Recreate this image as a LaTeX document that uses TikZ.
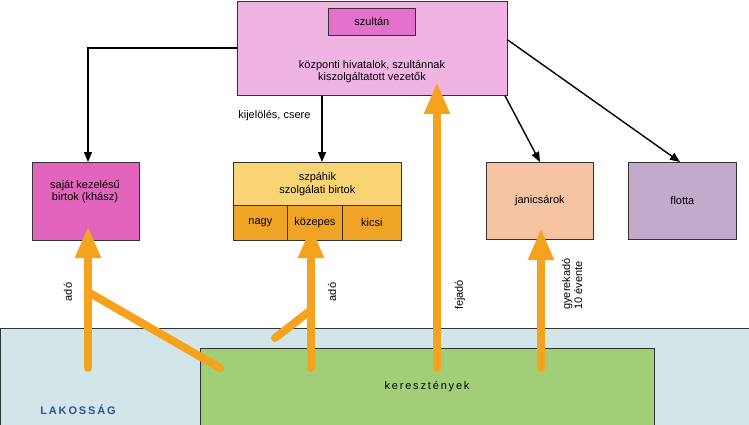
\documentclass[tikz,border=0pt]{standalone}
\usepackage{fontspec}
\setmainfont{Liberation Sans}
\usetikzlibrary{arrows.meta}
\definecolor{topc}{HTML}{F0B4E2}
\definecolor{sultc}{HTML}{E272CC}
\definecolor{sajc}{HTML}{E264BC}
\definecolor{szpc}{HTML}{F8D474}
\definecolor{szpd}{HTML}{F0A426}
\definecolor{janc}{HTML}{F6C4A2}
\definecolor{flc}{HTML}{C2AACA}
\definecolor{lakc}{HTML}{D2E6EA}
\definecolor{kerc}{HTML}{A2CE78}
\definecolor{orc}{HTML}{F5A21E}
\definecolor{bluec}{HTML}{3050A0}
\tikzset{
 box/.style={draw=black!80,line width=0.8pt,inner sep=0pt,align=center,font=\fontsize{11}{13}\selectfont},
 blk/.style={-{Triangle[width=8pt,length=10pt]},line width=1.4pt},
 org/.style={orc,line width=8pt,line cap=round},
 orga/.style={org,-{Triangle[width=24pt,length=32pt]}},
 lbl/.style={font=\fontsize{11}{12}\selectfont,align=center}
}
\begin{document}
\begin{tikzpicture}[x=1pt,y=-1pt]
\useasboundingbox (0,0) rectangle (749,425);
\fill[lakc,draw=black!80,line width=0.8pt] (0,328) rectangle (749,426);
\node[lbl,text=bluec,font=\bfseries\fontsize{11}{12}\selectfont] (lak) at (78,410) {L\,A\,K\,O\,S\,S\,Á\,G};
\node[box,fill=kerc,minimum width=454pt,minimum height=78pt,anchor=north west] (ker) at (200,348) {};
\node[lbl] (kert) at (427,387) {k\,e\,r\,e\,s\,z\,t\,é\,n\,y\,e\,k};
% top
\node[box,fill=topc,minimum width=270pt,minimum height=94pt,anchor=north west] (top) at (237,1) {};
\node[box,fill=sultc,minimum width=87pt,minimum height=27pt,anchor=north west] (sz) at (328,8) {szultán};
\node[lbl] (kozp) at (372,72) {központi hivatalok, szultánnak\\kiszolgáltatott vezetők};
% boxes
\node[box,fill=sajc,minimum width=107pt,minimum height=78pt,anchor=north west] (saj) at (32,162) {};
\node[lbl] (sajt) at (85,192) {saját kezelésű\\birtok (khász)};
\node[box,fill=szpc,minimum width=168pt,minimum height=43pt,anchor=north west] (szp) at (233,162) {szpáhik\\szolgálati birtok};
\node[box,fill=szpd,minimum width=54pt,minimum height=35pt,anchor=north west] (nagy) at (233,205) {nagy};
\node[box,fill=szpd,minimum width=55pt,minimum height=35pt,anchor=north west] (koz) at (287,205) {közepes};
\node[box,fill=szpd,minimum width=59pt,minimum height=35pt,anchor=north west] (kic) at (342,205) {kicsi};
\node[box,fill=janc,minimum width=107pt,minimum height=77pt,anchor=north west] (jan) at (486,162) {janicsárok};
\node[box,fill=flc,minimum width=108pt,minimum height=77pt,anchor=north west] (fl) at (628,162) {flotta};
% black arrows
\draw[blk] (top.west |- 0,48) -| (saj.north -| 88,0);
\draw[blk] (top.south -| 322,0) -- (szp.north -| 322,0);
\node[lbl,anchor=east] (kij) at (314,116) {kijelölés, csere};
\draw[blk] (top.south -| 505,0) -- (jan.north -| 540,0);
\draw[blk] (top.east |- 0,40) -- (fl.north -| 680,0);
% orange
\coordinate (a1) at (88,368);
\coordinate (a1t) at (88,226);
\coordinate (d1) at (88,292);
\coordinate (d1e) at (220,368);
\draw[org] (d1) -- (d1e);
\draw[orga] (a1) -- (a1t);
\coordinate (a2) at (311,368);
\coordinate (a2t) at (311,226);
\draw[org] (275,338) -- (311,310);
\draw[orga] (a2) -- (a2t);
\coordinate (a3) at (437,368);
\coordinate (a3t) at (437,82);
\draw[orga] (a3) -- (a3t);
\coordinate (a4) at (541,368);
\coordinate (a4t) at (541,228);
\draw[orga] (a4) -- (a4t);
\node[lbl,rotate=90] (ado1) at (68,292) {adó};
\node[lbl,rotate=90] (ado2) at (332,292) {adó};
\node[lbl,rotate=90] (fej) at (460,295) {fejadó};
\node[lbl,rotate=90,align=left] (gy) at (572,284) {gyerekadó\\10 évente};
\end{tikzpicture}
\end{document}
